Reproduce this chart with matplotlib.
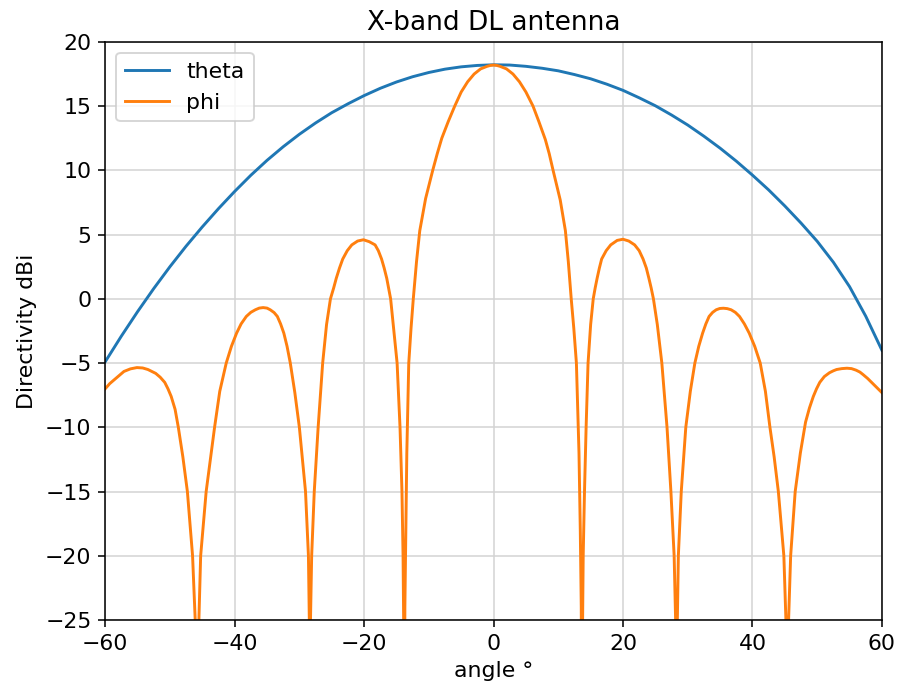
import matplotlib
matplotlib.use("Agg")
import matplotlib.pyplot as plt

# theta cut
theta_angle = [-60, -57.5, -55, -52.5, -50, -47.5, -45, -42.5, -40, -37.5, -35, -32.5,
               -30, -27.5, -25, -22.5, -20, -17.5, -15, -12.5, -10, -7.5, -5, -2.5,
               0, 2.5, 5, 7.5, 10, 12.5, 15, 17.5, 20, 22.5, 25, 27.5, 30, 32.5, 35,
               37.5, 40, 42.5, 45, 47.5, 50, 52.5, 55, 57.5, 60]
theta_dbi = [-4.9, -2.9, -1.0, 0.8, 2.5, 4.1, 5.6, 7.02, 8.36, 9.62, 10.78, 11.84,
             12.81, 13.69, 14.49, 15.18, 15.82, 16.39, 16.88, 17.29, 17.62, 17.88, 18.06, 18.17,
             18.22, 18.2, 18.1, 17.95, 17.75, 17.46, 17.13, 16.71, 16.23, 15.65, 15.03, 14.31,
             13.53, 12.66, 11.73, 10.72, 9.63, 8.48, 7.23, 5.9, 4.48, 2.85, 0.95, -1.35, -4.0]

# phi cut (deep nulls fall below the axis limit)
phi_angle = [
    -60, -59.3, -58.6, -57.8, -57.1, -56.1, -55.1, -54.2, -53.4, -52.2, -51.5, -50.8,
    -50.3, -49.8, -49.2, -48.7, -48.0, -47.3, -46.5, -46.05, -45.8,
    -45.55, -45.25, -44.4, -43.1, -42.3, -41.3, -40.5, -39.7, -39.0, -38.2, -37.5, -36.8,
    -36.2, -35.6, -35.0, -34.5, -33.9, -33.4, -32.9, -32.4, -31.9, -31.4, -30.7, -30.0,
    -29.05, -28.6, -28.45, -28.4,
    -28.3, -28.1, -27.7, -27.1, -26.4, -25.8, -25.2, -24.7, -24.3, -23.8, -23.3, -22.6,
    -21.9, -21.0, -20.1, -19.2, -18.3, -17.8, -17.3, -16.9, -16.5, -15.9, -15.5, -14.9,
    -14.45, -14.15, -13.98, -13.88, -13.8,
    -13.7, -13.55, -13.4, -13.1, -12.75, -12.4, -11.9, -11.4, -10.5, -9.4, -8.7, -8.0,
    -7.0, -6.0, -5.0, -4.0, -3.0, -2.0, -1.5, -1.0, -0.5,
    0.0,
    0.5, 1.0, 1.5, 2.0, 3.0, 4.0, 5.0, 6.1, 7.0, 8.0, 8.6, 9.2, 10.3, 11.1, 11.55, 12.0,
    12.4, 12.8, 13.2, 13.4, 13.55, 13.65,
    13.75, 13.85, 14.05, 14.3, 14.6, 15.0, 15.4, 15.7, 16.0, 16.35, 16.7, 17.4, 18.1,
    19.1, 20.0, 20.9, 21.8, 22.5, 23.1, 23.6, 24.0, 24.35, 24.7, 25.3, 26.0, 26.8, 27.4,
    27.9, 28.15, 28.3,
    28.38, 28.55, 29.0, 29.7, 30.4, 31.1, 31.7, 32.3, 32.8, 33.3, 33.85, 34.4, 34.95,
    35.5, 36.1, 36.7, 37.35, 38.0, 38.75, 39.5, 40.35, 41.2, 42.0, 42.7, 43.35, 44.0,
    44.85, 45.2, 45.4,
    45.55, 45.9, 46.6, 47.4, 48.2, 48.8, 49.4, 49.9, 50.4, 51.1, 51.9, 52.5, 53.0, 53.8,
    54.6, 55.3, 56.0, 56.6, 57.1, 57.8, 58.6, 59.3, 60.0,
]
phi_dbi = [
    -7.0, -6.6, -6.3, -5.95, -5.65, -5.45, -5.35, -5.38, -5.5, -5.8, -6.1, -6.5,
    -7.0, -7.6, -8.6, -10.0, -12.3, -15.0, -20.0, -25.5, -40.0,
    -25.5, -20.0, -15.0, -10.0, -7.2, -5.0, -3.7, -2.67, -1.95, -1.37, -1.05, -0.85,
    -0.72, -0.68, -0.72, -0.85, -1.07, -1.37, -1.95, -2.67, -3.7, -5.0, -7.3, -10.0,
    -15.0, -20.0, -25.5, -40.0,
    -25.5, -20.0, -15.0, -10.0, -5.0, -2.0, 0.0, 0.85, 1.6, 2.4, 3.1, 3.75,
    4.2, 4.5, 4.6, 4.45, 4.2, 3.75, 3.1, 2.4, 1.6, 0.0, -2.0, -5.0,
    -10.0, -15.0, -20.0, -25.5, -40.0,
    -24.0, -18.0, -12.0, -5.0, -2.3, 0.0, 2.9, 5.3, 7.8, 10.0, 11.3, 12.5,
    13.8, 15.0, 16.1, 16.9, 17.5, 17.9, 18.0, 18.1, 18.17,
    18.2,
    18.17, 18.1, 18.0, 17.9, 17.5, 16.9, 16.1, 15.0, 13.8, 12.4, 11.3, 10.0, 7.7, 5.3, 2.9, 0.0,
    -2.3, -5.0, -12.0, -18.0, -24.0, -40.0,
    -25.5, -20.0, -15.0, -10.0, -5.0, -2.0, 0.0, 0.85, 1.6, 2.4, 3.1, 3.75, 4.2,
    4.55, 4.64, 4.5, 4.2, 3.75, 3.1, 2.4, 1.6, 0.85, 0.0, -2.0, -5.0, -10.0, -15.0,
    -20.0, -25.5, -40.0,
    -25.5, -20.0, -15.0, -10.0, -7.2, -5.0, -3.7, -2.67, -1.95, -1.37, -1.05, -0.85, -0.75,
    -0.73, -0.76, -0.85, -1.05, -1.37, -1.95, -2.67, -3.7, -5.0, -7.2, -10.0, -12.3, -15.0,
    -20.0, -25.5, -40.0,
    -25.5, -20.0, -15.0, -12.0, -9.6, -8.5, -7.6, -7.0, -6.5, -6.05, -5.75, -5.6, -5.5, -5.43,
    -5.4, -5.43, -5.55, -5.7, -5.9, -6.2, -6.6, -6.95, -7.3,
]

plt.rcParams["font.size"] = 11.3

fig = plt.figure(figsize=(899 / 140, 694 / 140), dpi=140)
ax = fig.add_axes([0.117, 0.1066, 0.864, 0.833])
ax.plot(theta_angle, theta_dbi, color="#1f77b4", label="theta")
ax.plot(phi_angle, phi_dbi, color="#ff7f0e", label="phi")
ax.set_xlim(-60, 60)
ax.set_ylim(-25, 20)
ax.grid(True, color="#d4d4d4")
ax.set_title("X-band DL antenna")
ax.set_xlabel("angle °")
ax.set_ylabel("Directivity dBi")
ax.legend(loc="upper left")
fig.savefig("out.png", dpi=140)
